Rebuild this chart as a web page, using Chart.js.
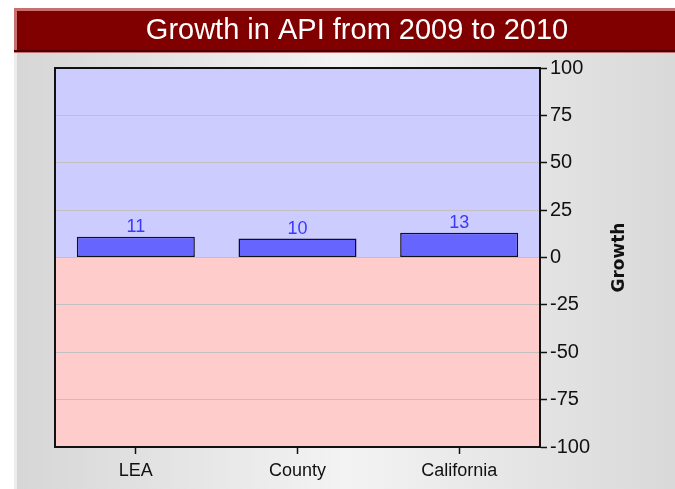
<!DOCTYPE html>
<html>
<head>
<meta charset="utf-8">
<script src="https://cdn.jsdelivr.net/npm/chart.js@4/dist/chart.umd.min.js"></script>
<style>
  html, body { margin: 0; padding: 0; background: #fff; }
  #wrap { width: 675px; height: 489px; }
</style>
</head>
<body>
<div id="wrap"><canvas id="growthChart" width="675" height="489"></canvas></div>
<script>
// dados do gráfico
const categorias   = ['LEA', 'County', 'California'];
const valores      = [11, 10, 13];
const tituloGraf   = 'Growth in API from 2009 to 2010';
const tituloEixoY  = 'Growth';
const eixoYMin     = -100;
const eixoYMax     = 100;
const eixoYPasso   = 25;

const FONTE = '"Liberation Sans", Arial, sans-serif';

// fundo do painel, faixa do título, fundos azul/rosa da área
const fundoPlugin = {
  id: 'fundo',
  beforeDraw(chart) {
    const { ctx, chartArea: a, scales } = chart;
    const W = chart.width, H = chart.height;
    ctx.save();
    ctx.fillStyle = '#fff';
    ctx.fillRect(0, 0, W, H);

    const g = ctx.createLinearGradient(14, 0, W, 0);
    g.addColorStop(0, '#d6d6d6');
    g.addColorStop(0.5, '#f3f3f3');
    g.addColorStop(1, '#d9d9d9');
    ctx.fillStyle = g;
    ctx.fillRect(14, 8, W - 14, H - 8);
    ctx.fillStyle = '#ececec';
    ctx.fillRect(14, 52, 3, H - 52);

    // faixa vermelha
    ctx.fillStyle = '#c87070';
    ctx.fillRect(14, 8, W - 14, 45);
    ctx.fillStyle = '#800000';
    ctx.fillRect(17, 11, W - 17, 39);
    ctx.fillStyle = '#4a0000';
    ctx.fillRect(14, 50, W - 14, 2);

    ctx.fillStyle = '#fff';
    ctx.font = '29px ' + FONTE;
    ctx.textAlign = 'center';
    ctx.textBaseline = 'middle';
    ctx.fillText(tituloGraf, 357, 31);

    // fundos acima e abaixo do zero
    const y0 = scales.y.getPixelForValue(0);
    ctx.fillStyle = '#ccccff';
    ctx.fillRect(a.left, a.top, a.width, y0 - a.top);
    ctx.fillStyle = '#ffcccc';
    ctx.fillRect(a.left, y0, a.width, a.bottom - y0);
    ctx.restore();
  },
  afterDatasetsDraw(chart) {
    const { ctx, chartArea: a } = chart;
    ctx.save();
    // valores em cima das barras
    const meta = chart.getDatasetMeta(0);
    ctx.fillStyle = '#3a3aff';
    ctx.font = '18px ' + FONTE;
    ctx.textAlign = 'center';
    ctx.textBaseline = 'bottom';
    meta.data.forEach((bar, i) => {
      ctx.fillText(String(valores[i]), bar.x, bar.y - 1);
    });
    // moldura
    ctx.strokeStyle = '#111';
    ctx.lineWidth = 2;
    ctx.strokeRect(a.left, a.top, a.width, a.height);
    // título do eixo
    ctx.translate(620, (a.top + a.bottom) / 2);
    ctx.rotate(-Math.PI / 2);
    ctx.fillStyle = '#111';
    ctx.font = 'bold 17px "DejaVu Sans", sans-serif';
    ctx.textAlign = 'center';
    ctx.textBaseline = 'middle';
    ctx.fillText(tituloEixoY, 0, 0);
    ctx.restore();
  }
};

new Chart(document.getElementById('growthChart').getContext('2d'), {
  type: 'bar',
  data: {
    labels: categorias,
    datasets: [{
      data: valores,
      backgroundColor: '#6666ff',
      borderColor: '#111',
      borderWidth: 1.5,
      borderSkipped: false,
      barPercentage: 0.73,
      categoryPercentage: 1
    }]
  },
  options: {
    responsive: false,
    animation: false,
    events: [],
    layout: { padding: { left: 55, top: 68, right: 45, bottom: 0 } },
    plugins: { legend: { display: false }, tooltip: { enabled: false }, title: { display: false } },
    scales: {
      x: {
        offset: true,
        grid: { offset: false, drawOnChartArea: false, drawTicks: true, tickLength: 7, tickColor: '#111', tickWidth: 1.5 },
        border: { display: true, color: '#111', width: 2 },
        ticks: { color: '#111', font: { family: FONTE, size: 18 }, padding: 6 },
        afterFit(s) { s.height = 42; }
      },
      y: {
        position: 'right',
        min: eixoYMin,
        max: eixoYMax,
        grid: { color: '#c4c0c0', lineWidth: 1, tickLength: 7, tickColor: '#111', tickWidth: 1.5 },
        border: { display: true, color: '#111', width: 2 },
        ticks: { stepSize: eixoYPasso, color: '#111', font: { family: FONTE, size: 20 }, padding: 3 },
        afterFit(s) { s.width = 90; }
      }
    }
  },
  plugins: [fundoPlugin]
});
</script>
</body>
</html>
